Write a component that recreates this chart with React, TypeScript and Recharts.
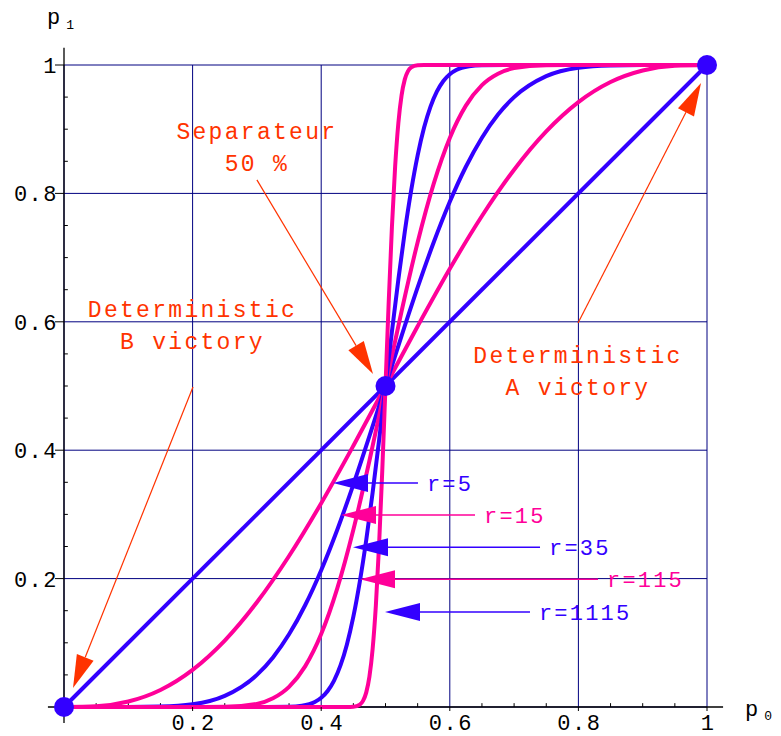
import React from 'react';
import {
  ComposedChart,
  Line,
  Scatter,
  XAxis,
  YAxis,
  CartesianGrid,
  ReferenceLine,
  ReferenceDot,
} from 'recharts';

// ---------- data ----------
const TICKS = [0.2, 0.4, 0.6, 0.8, 1];
const TICK_LABELS = ['0.2', '0.4', '0.6', '0.8', '1'];
const MINOR_TICKS = [0.05, 0.1, 0.15, 0.25, 0.3, 0.35, 0.45, 0.5, 0.55, 0.65, 0.7, 0.75, 0.85, 0.9, 0.95];

const P0_R1 = [0, 1];
const P1_R1 = [0, 1];

const P0_R5 = [0, 0.05, 0.1, 0.15, 0.2, 0.25, 0.3, 0.35, 0.4, 0.45, 0.5, 0.55, 0.6, 0.65, 0.7, 0.75, 0.8, 0.85, 0.9, 0.95, 1];
const P1_R5 = [0, 0.0012, 0.0086, 0.0266, 0.0579, 0.1035, 0.1631, 0.2352, 0.3174, 0.4069, 0.5, 0.5931, 0.6826, 0.7648, 0.8369, 0.8965, 0.9421, 0.9734, 0.9914, 0.9988, 1];

const P0_R15 = [0, 0.1, 0.15, 0.2, 0.25, 0.3, 0.325, 0.35, 0.375, 0.4, 0.425, 0.45, 0.475, 0.5, 0.525, 0.55, 0.575, 0.6, 0.625, 0.65, 0.675, 0.7, 0.75, 0.8, 0.85, 0.9, 1];
const P1_R15 = [0, 0, 0.0006, 0.0042, 0.0173, 0.05, 0.0772, 0.1132, 0.1585, 0.2131, 0.2762, 0.3465, 0.4219, 0.5, 0.5781, 0.6535, 0.7238, 0.7869, 0.8415, 0.8868, 0.9228, 0.95, 0.9827, 0.9958, 0.9994, 1, 1];

const P0_R35 = [0, 0.2, 0.25, 0.3, 0.325, 0.35, 0.375, 0.4, 0.425, 0.45, 0.475, 0.5, 0.525, 0.55, 0.575, 0.6, 0.625, 0.65, 0.675, 0.7, 0.75, 0.8, 1];
const P1_R35 = [0, 0, 0.0003, 0.0049, 0.0136, 0.0314, 0.0633, 0.1136, 0.1847, 0.276, 0.3835, 0.5, 0.6165, 0.724, 0.8153, 0.8864, 0.9367, 0.9686, 0.9864, 0.9951, 0.9997, 1, 1];

const P0_R115 = [0, 0.3, 0.35, 0.37, 0.39, 0.4, 0.41, 0.42, 0.43, 0.44, 0.45, 0.46, 0.47, 0.48, 0.49, 0.5, 0.51, 0.52, 0.53, 0.54, 0.55, 0.56, 0.57, 0.58, 0.59, 0.6, 0.61, 0.63, 0.65, 0.7, 1];
const P1_R115 = [0, 0, 0.0004, 0.002, 0.0078, 0.0143, 0.0249, 0.0412, 0.0648, 0.0975, 0.1407, 0.195, 0.2597, 0.334, 0.415, 0.5, 0.585, 0.666, 0.7403, 0.805, 0.8593, 0.9025, 0.9352, 0.9588, 0.9751, 0.9857, 0.9922, 0.998, 0.9996, 1, 1];

const P0_R1115 = [0, 0.44, 0.45, 0.46, 0.465, 0.47, 0.475, 0.48, 0.485, 0.49, 0.495, 0.5, 0.505, 0.51, 0.515, 0.52, 0.525, 0.53, 0.535, 0.54, 0.55, 0.56, 1];
const P1_R1115 = [0, 0, 0.0004, 0.0037, 0.0096, 0.0224, 0.0473, 0.0906, 0.158, 0.252, 0.369, 0.5, 0.631, 0.748, 0.842, 0.9094, 0.9527, 0.9776, 0.9904, 0.9963, 0.9996, 1, 1];

const MARK_P0 = [0, 0.5, 1];
const MARK_P1 = [0, 0.5, 1];

const LABEL_NAMES = ['r=5', 'r=15', 'r=35', 'r=115', 'r=1115'];
const LABEL_Y = [0.349, 0.299, 0.249, 0.199, 0.148];
const LABEL_TAIL_X = [0.5505, 0.6392, 0.7403, 0.8305, 0.7247];
const LABEL_TIP_X = [0.4184, 0.4308, 0.4495, 0.4603, 0.4992];

const NOTE_LINES = [
  ['Separateur', '50 %'],
  ['Deterministic', 'B victory'],
  ['Deterministic', 'A victory'],
];
const NOTE_X = [0.3, 0.1998, 0.7994];
const NOTE_Y = [0.8847, 0.6075, 0.5358];
const NOTE_ARROW_FROM_X = [0.3, 0.2006, 0.7994];
const NOTE_ARROW_FROM_Y = [0.821, 0.4984, 0.598];
const NOTE_ARROW_TO_X = [0.4806, 0.014, 0.9907];
const NOTE_ARROW_TO_Y = [0.5187, 0.0296, 0.972];

// ---------- styles ----------
const BLUE = '#3300FF';
const MAGENTA = '#FF0099';
const RED = '#FF3300';
const NAVY = '#000080';
const MONO = "Liberation Mono, Courier New, monospace";

const CURVES = [
  { id: 'r1', p0: P0_R1, p1: P1_R1, color: BLUE },
  { id: 'r5', p0: P0_R5, p1: P1_R5, color: MAGENTA },
  { id: 'r15', p0: P0_R15, p1: P1_R15, color: BLUE },
  { id: 'r35', p0: P0_R35, p1: P1_R35, color: MAGENTA },
  { id: 'r115', p0: P0_R115, p1: P1_R115, color: BLUE },
  { id: 'r1115', p0: P0_R1115, p1: P1_R1115, color: MAGENTA },
];
const LABEL_COLORS = [BLUE, MAGENTA, BLUE, MAGENTA, BLUE];

const toRows = (xs: number[], ys: number[]) => xs.map((x, i) => ({ x, y: ys[i] }));

function arrowShape(color: string, strokeWidth: number, len: number, half: number, text?: string) {
  return (props: any) => {
    const { x1, y1, x2, y2 } = props;
    const dx = x2 - x1;
    const dy = y2 - y1;
    const d = Math.sqrt(dx * dx + dy * dy) || 1;
    const ux = dx / d;
    const uy = dy / d;
    const bx = x2 - ux * len;
    const by = y2 - uy * len;
    const nx = -uy;
    const ny = ux;
    const pts = `${x2},${y2} ${bx + nx * half},${by + ny * half} ${bx - nx * half},${by - ny * half}`;
    return (
      <g>
        <line x1={x1} y1={y1} x2={bx} y2={by} stroke={color} strokeWidth={strokeWidth} />
        <polygon points={pts} fill={color} stroke="none" />
        {text ? (
          <text
            x={x1 + 9}
            y={y1 + 8}
            fill={color}
            style={{ fontFamily: MONO, fontSize: 22, letterSpacing: 2.2 }}
          >
            {text}
          </text>
        ) : null}
      </g>
    );
  };
}

function noteShape(lines: string[]) {
  return (props: any) => {
    const { cx, cy } = props;
    return (
      <text fill={RED} style={{ fontFamily: MONO, fontSize: 23, letterSpacing: 2.3 }} textAnchor="middle">
        {lines.map((l, i) => (
          <tspan key={i} x={cx} y={cy + i * 32}>
            {l}
          </tspan>
        ))}
      </text>
    );
  };
}

const XTick = (props: any) => {
  const { x, y, payload } = props;
  const idx = TICKS.indexOf(payload.value);
  return (
    <text x={x + 1} y={y + 17} textAnchor="middle" fill="#000" style={{ fontFamily: MONO, fontSize: 22, letterSpacing: 1.5 }}>
      {TICK_LABELS[idx]}
    </text>
  );
};

const YTick = (props: any) => {
  const { x, y, payload } = props;
  const idx = TICKS.indexOf(payload.value);
  return (
    <text x={x + 5} y={y + 8} textAnchor="end" fill="#000" style={{ fontFamily: MONO, fontSize: 22, letterSpacing: 1.5 }}>
      {TICK_LABELS[idx]}
    </text>
  );
};

const YLabel = (props: any) => {
  const vb = props.viewBox;
  return (
    <text x={vb.x + 47} y={vb.y - 41} fill="#000" style={{ fontFamily: MONO, fontSize: 22 }}>
      p
      <tspan style={{ fontSize: 13 }} dx={6} dy={5}>
        1
      </tspan>
    </text>
  );
};

const XLabel = (props: any) => {
  const vb = props.viewBox;
  return (
    <text x={vb.x + vb.width + 38} y={vb.y + 9} fill="#000" style={{ fontFamily: MONO, fontSize: 22 }}>
      p
      <tspan style={{ fontSize: 13 }} dx={6} dy={4}>
        0
      </tspan>
    </text>
  );
};

export default function App() {
  const marks = toRows(MARK_P0, MARK_P1);
  return (
    <div style={{ position: 'absolute', left: 0, top: 0, width: 781, height: 736, background: '#fff' }}>
      <ComposedChart width={781} height={736} margin={{ top: 65, right: 74, bottom: 0, left: 0 }}>
        <CartesianGrid stroke={NAVY} strokeWidth={1} />
        <XAxis
          type="number"
          dataKey="x"
          domain={[0, 1]}
          ticks={TICKS}
          height={29}
          axisLine={false}
          tickLine={{ stroke: '#000' }}
          tickSize={4}
          tickMargin={2}
          tick={<XTick />}
          label={<XLabel />}
        />
        <YAxis
          type="number"
          dataKey="y"
          domain={[0, 1]}
          ticks={TICKS}
          width={64}
          axisLine={false}
          tickLine={{ stroke: '#000' }}
          tickSize={9}
          tickMargin={2}
          tick={<YTick />}
          label={<YLabel />}
        />
        {/* axes lines */}
        <ReferenceLine
          segment={[{ x: -0.025, y: 0 }, { x: 1.025, y: 0 }]}
          stroke="#000"
          strokeWidth={1.3}
          ifOverflow="visible"
        />
        <ReferenceLine
          segment={[{ x: 0, y: -0.025 }, { x: 0, y: 1.027 }]}
          stroke="#000"
          strokeWidth={1.3}
          ifOverflow="visible"
        />
        {MINOR_TICKS.map((t) => (
          <ReferenceLine
            key={'mx' + t}
            segment={[{ x: t, y: 0 }, { x: t, y: 0.006 }]}
            stroke="#000"
            strokeWidth={1}
            ifOverflow="visible"
          />
        ))}
        {MINOR_TICKS.map((t) => (
          <ReferenceLine
            key={'my' + t}
            segment={[{ x: 0, y: t }, { x: 0.006, y: t }]}
            stroke="#000"
            strokeWidth={1}
            ifOverflow="visible"
          />
        ))}
        {CURVES.map((c) => (
          <Line
            key={c.id}
            data={toRows(c.p0, c.p1)}
            dataKey="y"
            type="monotone"
            stroke={c.color}
            strokeWidth={4}
            dot={false}
            activeDot={false}
            isAnimationActive={false}
          />
        ))}
        <Scatter
          data={marks}
          dataKey="y"
          fill={BLUE}
          isAnimationActive={false}
          shape={(p: any) => <circle cx={p.cx} cy={p.cy} r={10} fill={BLUE} />}
        />
        {LABEL_NAMES.map((n, i) => (
          <ReferenceLine
            key={n}
            segment={[{ x: LABEL_TAIL_X[i], y: LABEL_Y[i] }, { x: LABEL_TIP_X[i], y: LABEL_Y[i] }]}
            ifOverflow="visible"
            shape={arrowShape(LABEL_COLORS[i], 1.5, 35, 9, n)}
          />
        ))}
        {NOTE_LINES.map((lines, i) => (
          <ReferenceLine
            key={'na' + i}
            segment={[
              { x: NOTE_ARROW_FROM_X[i], y: NOTE_ARROW_FROM_Y[i] },
              { x: NOTE_ARROW_TO_X[i], y: NOTE_ARROW_TO_Y[i] },
            ]}
            ifOverflow="visible"
            shape={arrowShape(RED, 1.2, 33, 9)}
          />
        ))}
        {NOTE_LINES.map((lines, i) => (
          <ReferenceDot
            key={'nt' + i}
            x={NOTE_X[i]}
            y={NOTE_Y[i]}
            r={0}
            ifOverflow="visible"
            shape={noteShape(lines)}
          />
        ))}
      </ComposedChart>
    </div>
  );
}
